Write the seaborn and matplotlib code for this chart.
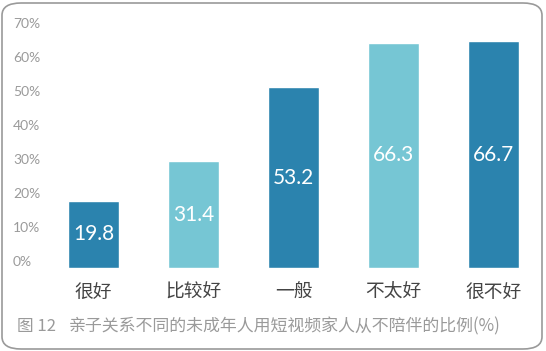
import matplotlib
matplotlib.use("Agg")
import matplotlib.pyplot as plt
import seaborn as sns
from matplotlib.patches import FancyBboxPatch

# data
categories = ["很好", "比较好", "一般", "不太好", "很不好"]
values = [19.8, 31.4, 53.2, 66.3, 66.7]
bar_colors = ["#2b83ae", "#76c6d4", "#2b83ae", "#76c6d4", "#2b83ae"]
yticks = [0, 10, 20, 30, 40, 50, 60, 70]
ytick_labels = [f"{t}%" for t in yticks]
caption_no = "图 12"
caption = "亲子关系不同的未成年人用短视频家人从不陪伴的比例(%)"

sns.set_style("white")
plt.rcParams["font.family"] = ["Noto Sans CJK SC", "DejaVu Sans"]

W, H = 546, 351
fig = plt.figure(figsize=(W / 100, H / 100), dpi=100)
ax = fig.add_axes([60 / W, (H - 268) / H, 470 / W, 238 / H])

sns.barplot(x=categories, y=values, hue=categories, palette=bar_colors,
            legend=False, width=0.51, saturation=1, ax=ax)

ax.set_xlim(-0.335, 4.365)
ax.set_ylim(0, 70)
ax.set_xlabel("")
ax.set_ylabel("")
sns.despine(ax=ax, left=True, bottom=True)

ax.set_yticks(yticks)
ax.set_yticklabels(ytick_labels, family=["Lato", "DejaVu Sans"], fontsize=10,
                   color="#9a9a9a", ha="left", va="bottom")
ax.tick_params(axis="y", length=0, pad=33.8)
ax.tick_params(axis="x", length=0, pad=10, labelsize=13.5, labelcolor="#444444")

for cont, v in zip(ax.containers, values):
    ax.bar_label(cont, labels=[f"{v}"], label_type="center", color="white",
                 fontsize=15, family=["Lato", "DejaVu Sans"])

fig.text(17 / W, 1 - 326 / H, caption_no, fontsize=12, color="#9a9a9a", va="center")
fig.text(69 / W, 1 - 326 / H, caption, fontsize=12.2, color="#9a9a9a", va="center")

border = FancyBboxPatch((2 / W, 2 / H), 540 / W, 346 / H,
                        boxstyle="round,pad=0,rounding_size=0.035",
                        transform=fig.transFigure, fill=False,
                        edgecolor="#9a9a9a", linewidth=1.2)
fig.patches.append(border)

fig.savefig("out.png", dpi=100)
